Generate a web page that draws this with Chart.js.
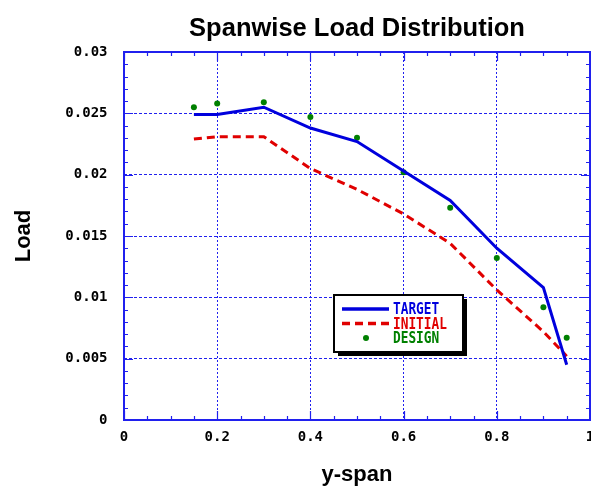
<!DOCTYPE html>
<html>
<head>
<meta charset="utf-8">
<script src="https://cdn.jsdelivr.net/npm/chart.js@4"></script>
<style>
  html, body { margin: 0; padding: 0; background: #fff; }
  canvas { display: block; }
</style>
</head>
<body>
<canvas id="loadChart" width="591" height="488"></canvas>
<script>
// spanwise stations
var span = [0.15, 0.2, 0.3, 0.4, 0.5, 0.6, 0.7, 0.8, 0.9, 0.95];
// load values
var target  = [0.0249, 0.0249, 0.0255, 0.0238, 0.0227, 0.0203, 0.0179, 0.0140, 0.0108, 0.0045];
var initial = [0.0229, 0.0231, 0.0231, 0.0205, 0.0188, 0.0168, 0.0144, 0.0106, 0.0072, 0.0052];
var design  = [0.0255, 0.0258, 0.0259, 0.0247, 0.0230, 0.0202, 0.0173, 0.0132, 0.0092, 0.0067];
var seriesNames = ['TARGET', 'INITIAL', 'DESIGN'];
var xTicks = [0, 0.2, 0.4, 0.6, 0.8, 1];
var yTicks = [0, 0.005, 0.01, 0.015, 0.02, 0.025, 0.03];

function pts(ys) {
    return span.map(function(x, i) { return {x: x, y: ys[i]}; });
}

var BLUE = '#0000dd', RED = '#e00000', GREEN = '#008000';
var GRID = '#2020ee';

// frame round the plot with inward tick marks
var framePlugin = {
    id: 'frame',
    beforeDatasetsDraw: function(chart) {
        var ctx = chart.ctx, a = chart.chartArea;
        var xs = chart.scales.x, ys = chart.scales.y;
        ctx.save();
        ctx.strokeStyle = GRID;
        ctx.lineWidth = 1.2;
        ctx.beginPath();
        var i, v, px, len;
        for (i = 0; i <= 20; i++) {
            v = i * 0.05;
            px = Math.round(xs.getPixelForValue(v)) + 0.5;
            len = (i % 4 === 0) ? 9 : 4;
            ctx.moveTo(px, a.bottom); ctx.lineTo(px, a.bottom - len);
            ctx.moveTo(px, a.top); ctx.lineTo(px, a.top + len);
        }
        for (i = 0; i <= 30; i++) {
            v = i * 0.001;
            px = Math.round(ys.getPixelForValue(v)) + 0.5;
            len = (i % 5 === 0) ? 9 : 4;
            ctx.moveTo(a.left, px); ctx.lineTo(a.left + len, px);
            ctx.moveTo(a.right, px); ctx.lineTo(a.right - len, px);
        }
        ctx.stroke();
        ctx.lineWidth = 2;
        ctx.strokeRect(a.left, a.top, a.right - a.left, a.bottom - a.top);
        ctx.restore();
    }
};

// boxed legend with drop shadow inside the plot
var legendPlugin = {
    id: 'boxLegend',
    afterDatasetsDraw: function(chart) {
        var ctx = chart.ctx;
        var bx = 334, by = 295, bw = 129, bh = 57;
        ctx.save();
        ctx.fillStyle = '#000';
        ctx.fillRect(bx + 4, by + 4, bw, bh);
        ctx.fillStyle = '#fff';
        ctx.fillRect(bx, by, bw, bh);
        ctx.strokeStyle = '#000';
        ctx.lineWidth = 2;
        ctx.strokeRect(bx, by, bw, bh);
        var rows = [309, 323.5, 338];
        chart.data.datasets.forEach(function(ds, i) {
            var y = rows[i];
            if (ds.showLine) {
                ctx.strokeStyle = ds.borderColor;
                ctx.lineWidth = 3.5;
                ctx.setLineDash(ds.borderDash || []);
                ctx.beginPath();
                ctx.moveTo(342, y); ctx.lineTo(389, y);
                ctx.stroke();
                ctx.setLineDash([]);
            } else {
                ctx.fillStyle = ds.backgroundColor;
                ctx.beginPath();
                ctx.arc(366, y, 3, 0, Math.PI * 2);
                ctx.fill();
            }
            ctx.save();
            ctx.translate(393, y);
            ctx.scale(0.8, 1);
            ctx.font = 'bold 16px "DejaVu Sans Mono"';
            ctx.textBaseline = 'middle';
            ctx.fillStyle = ds.borderColor;
            ctx.fillText(ds.label, 0, 1);
            ctx.restore();
        });
        ctx.restore();
    }
};

var ctx = document.getElementById('loadChart').getContext('2d');
var chart = new Chart(ctx, {
    type: 'scatter',
    data: {
        datasets: [{
            label: seriesNames[0],
            data: pts(target),
            showLine: true,
            borderColor: BLUE,
            backgroundColor: BLUE,
            borderWidth: 3,
            pointRadius: 0
        }, {
            label: seriesNames[1],
            data: pts(initial),
            showLine: true,
            borderColor: RED,
            backgroundColor: RED,
            borderWidth: 3,
            borderDash: [8, 5],
            pointRadius: 0
        }, {
            label: seriesNames[2],
            data: pts(design),
            showLine: false,
            borderColor: GREEN,
            backgroundColor: GREEN,
            pointRadius: 3,
            borderWidth: 0
        }]
    },
    options: {
        responsive: false,
        animation: false,
        devicePixelRatio: 1,
        layout: { autoPadding: false, padding: { left: 0, right: 1, top: 0, bottom: 0 } },
        plugins: {
            legend: { display: false },
            tooltip: { enabled: false },
            title: {
                display: true,
                text: 'Spanwise Load Distribution',
                fullSize: false,
                color: '#000',
                font: { family: '"Liberation Sans", Arial, sans-serif', size: 25.5, weight: 'bold', lineHeight: 1.2 },
                padding: { top: 14, bottom: 7.4 }
            }
        },
        scales: {
            x: {
                type: 'linear',
                min: 0,
                max: 1,
                afterBuildTicks: function(s) {
                    s.ticks = xTicks.map(function(v) { return {value: v}; });
                },
                afterFit: function(s) {
                    s.height = 68;
                    s.paddingLeft = 0;
                    s.paddingRight = 0;
                },
                ticks: {
                    color: '#000',
                    padding: 9,
                    maxRotation: 0,
                    font: { family: '"DejaVu Sans Mono", monospace', size: 14, weight: 'bold' },
                    callback: function(v) { return String(Number(v.toFixed(3))); }
                },
                grid: {
                    drawTicks: false,
                    lineWidth: 1,
                    color: function(c) {
                        var v = c.tick ? c.tick.value : 0;
                        return (v <= 0 || v >= 1) ? 'rgba(0,0,0,0)' : GRID;
                    }
                },
                border: { display: false, dash: [2, 2] },
                title: {
                    display: true,
                    text: 'y-span',
                    color: '#000',
                    font: { family: '"Liberation Sans", Arial, sans-serif', size: 22, weight: 'bold', lineHeight: 1.2 },
                    padding: { top: 0, bottom: 0 }
                }
            },
            y: {
                type: 'linear',
                min: 0,
                max: 0.03,
                afterBuildTicks: function(s) {
                    s.ticks = yTicks.map(function(v) { return {value: v}; });
                },
                afterFit: function(s) {
                    s.width = 124;
                },
                ticks: {
                    color: '#000',
                    padding: 16.5,
                    font: { family: '"DejaVu Sans Mono", monospace', size: 14, weight: 'bold' },
                    callback: function(v) { return String(Number(v.toFixed(4))); }
                },
                grid: {
                    drawTicks: false,
                    lineWidth: 1,
                    color: function(c) {
                        var v = c.tick ? c.tick.value : 0;
                        return (v <= 0 || v >= 0.03) ? 'rgba(0,0,0,0)' : GRID;
                    }
                },
                border: { display: false, dash: [3, 2] },
                title: {
                    display: true,
                    text: 'Load',
                    color: '#000',
                    font: { family: '"Liberation Sans", Arial, sans-serif', size: 22, weight: 'bold', lineHeight: 1.2 },
                    padding: { top: 11, bottom: 0 }
                }
            }
        }
    },
    plugins: [framePlugin, legendPlugin]
});
</script>
</body>
</html>
